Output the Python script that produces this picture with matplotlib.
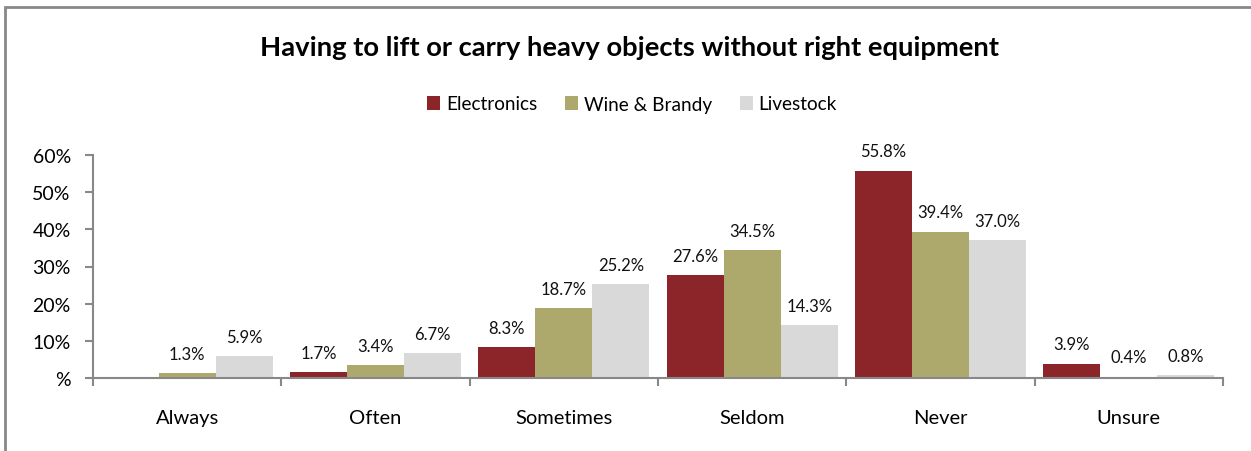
import numpy as np
import matplotlib
matplotlib.use('Agg')
import matplotlib.pyplot as plt
from matplotlib.patches import Rectangle

categories = ['Always', 'Often', 'Sometimes', 'Seldom', 'Never', 'Unsure']
series_names = ['Electronics', 'Wine & Brandy', 'Livestock']
electronics = [0.0, 1.7, 8.3, 27.6, 55.8, 3.9]
wine_brandy = [1.3, 3.4, 18.7, 34.5, 39.4, 0.4]
livestock = [5.9, 6.7, 25.2, 14.3, 37.0, 0.8]
yticks = [0, 10, 20, 30, 40, 50, 60]
ytick_labels = ['%', '10%', '20%', '30%', '40%', '50%', '60%']

colors = ['#8B252A', '#ADA96C', '#D9D9D9']

plt.rcParams['font.family'] = ['Lato', 'DejaVu Sans']

fig = plt.figure(figsize=(12.51, 4.52), dpi=100)
ax = fig.add_axes([93/1251, 1 - 379/452, (1223 - 93)/1251, (379 - 156)/452])

x = np.arange(len(categories))
w = 0.303
allvals = [electronics, wine_brandy, livestock]
for i, vals in enumerate(allvals):
    pos = x + (i - 1) * w
    ax.bar(pos, vals, width=w, color=colors[i], label=series_names[i], zorder=2)
    for p, v in zip(pos, vals):
        if v == 0:
            continue
        ax.annotate('%.1f%%' % v, (p, v), xytext=(0, 8), textcoords='offset points',
                    ha='center', va='bottom', fontsize=12, color='#111111')

ax.set_xlim(-0.5, len(categories) - 0.5)
ax.set_ylim(0, 60)
ax.set_yticks(yticks)
ax.set_yticklabels(ytick_labels, fontsize=14)
ax.set_xticks(x)
ax.set_xticklabels(categories, fontsize=14.5)
ax.set_xticks(np.arange(-0.5, len(categories)), minor=True)
ax.tick_params(axis='x', which='major', length=0, pad=22)
ax.tick_params(axis='x', which='minor', length=6, width=1.5, color='#888888', direction='out')
ax.tick_params(axis='y', length=6, width=1.5, color='#888888', direction='out', pad=10)
for s in ['top', 'right']:
    ax.spines[s].set_visible(False)
for s in ['left', 'bottom']:
    ax.spines[s].set_color('#888888')
    ax.spines[s].set_linewidth(1.5)

fig.text(630/1251, 1 - 48/452, 'Having to lift or carry heavy objects without right equipment',
         ha='center', va='center', fontsize=19.7, fontweight='bold')
fig.legend(loc='center', bbox_to_anchor=(632/1251, 1 - 105/452), ncol=3, frameon=False,
           fontsize=13.7, handlelength=0.7, handleheight=0.7, handletextpad=0.3,
           columnspacing=1.45)

fig.patches.append(Rectangle((5/1251, -0.05), 1.1, 1 - 8/452 + 0.05, transform=fig.transFigure,
                             fill=False, edgecolor='#888888', linewidth=2))

plt.savefig('out.png', dpi=100)
